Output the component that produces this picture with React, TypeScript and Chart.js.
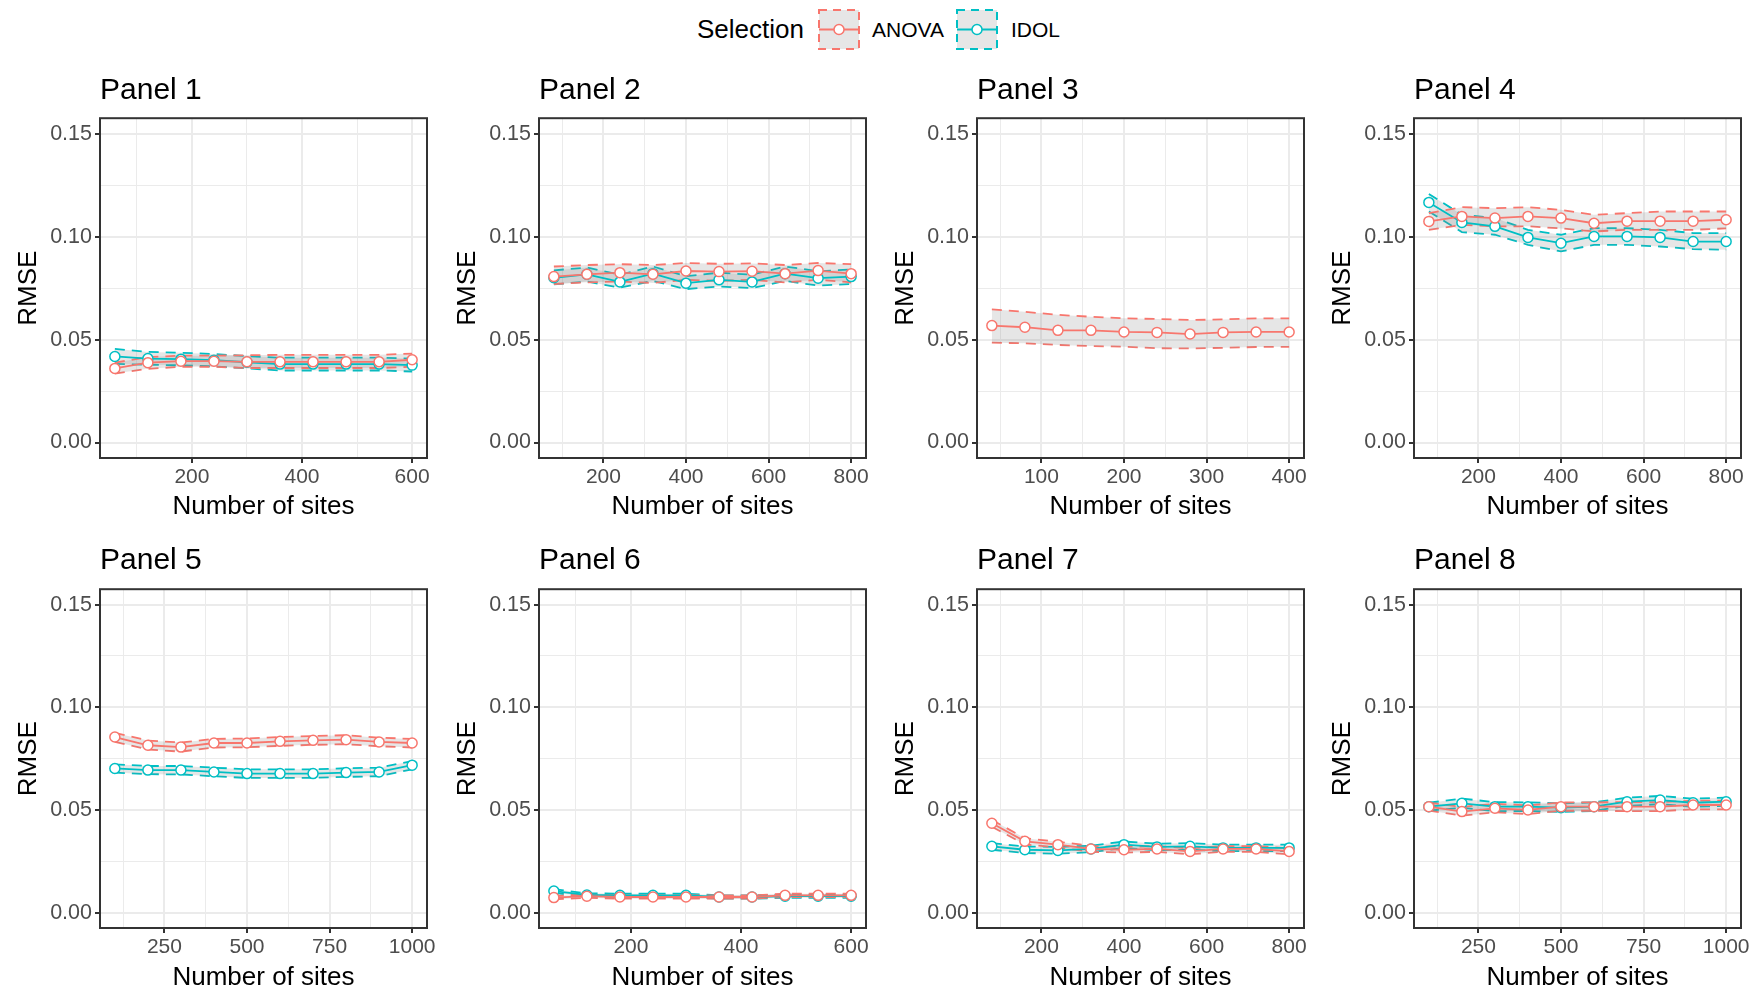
import React, { useEffect, useRef } from 'react';
import { Chart, registerables } from 'chart.js';

Chart.register(...registerables);

const FONT = "'Liberation Sans', Arial, Helvetica, sans-serif";
const ANOVA_COLOR = '#F8766D';
const IDOL_COLOR = '#00BFC4';
const RIBBON_FILL = 'rgba(128,128,128,0.2)';

// ---------- tick definitions ----------
const yMajorTicks = [0, 0.05, 0.1, 0.15];
const yMinorTicks = [0.025, 0.075, 0.125];
const yTickLabels = ['0.00', '0.05', '0.10', '0.15'];

const xMajor600 = [200, 400, 600];
const xMinor600 = [100, 300, 500];
const xLabels600 = ['200', '400', '600'];

const xMajor800 = [200, 400, 600, 800];
const xMinor800 = [100, 300, 500, 700];
const xLabels800 = ['200', '400', '600', '800'];

const xMajor400 = [100, 200, 300, 400];
const xMinor400 = [50, 150, 250, 350];
const xLabels400 = ['100', '200', '300', '400'];

const xMajor1000 = [250, 500, 750, 1000];
const xMinor1000 = [125, 375, 625, 875];
const xLabels1000 = ['250', '500', '750', '1000'];

// ---------- data ----------
const sites600 = [60, 120, 180, 240, 300, 360, 420, 480, 540, 600];
const sites800 = [80, 160, 240, 320, 400, 480, 560, 640, 720, 800];
const sites400 = [40, 80, 120, 160, 200, 240, 280, 320, 360, 400];
const sites1000 = [100, 200, 300, 400, 500, 600, 700, 800, 900, 1000];

// Panel 1
const p1AnovaMean = [0.0360, 0.0388, 0.0395, 0.0395, 0.0392, 0.0392, 0.0392, 0.0392, 0.0392, 0.0402];
const p1AnovaLo = [0.0335, 0.0358, 0.0368, 0.0368, 0.0362, 0.0362, 0.0362, 0.0362, 0.0362, 0.0368];
const p1AnovaHi = [0.0388, 0.0415, 0.0422, 0.0422, 0.0424, 0.0426, 0.0426, 0.0426, 0.0426, 0.0432];
const p1IdolMean = [0.0418, 0.0408, 0.0405, 0.0400, 0.0390, 0.0381, 0.0381, 0.0381, 0.0381, 0.0376];
const p1IdolLo = [0.0382, 0.0378, 0.0375, 0.0370, 0.0360, 0.0350, 0.0350, 0.0350, 0.0350, 0.0345];
const p1IdolHi = [0.0455, 0.0440, 0.0436, 0.0430, 0.0420, 0.0412, 0.0412, 0.0412, 0.0412, 0.0408];

// Panel 2
const p2AnovaMean = [0.0806, 0.0817, 0.0825, 0.0817, 0.0833, 0.0830, 0.0832, 0.0820, 0.0835, 0.0820];
const p2AnovaLo = [0.0770, 0.0778, 0.0782, 0.0775, 0.0790, 0.0785, 0.0790, 0.0778, 0.0790, 0.0778];
const p2AnovaHi = [0.0855, 0.0862, 0.0866, 0.0862, 0.0872, 0.0868, 0.0870, 0.0862, 0.0872, 0.0866];
const p2IdolMean = [0.0800, 0.0817, 0.0780, 0.0820, 0.0774, 0.0790, 0.0780, 0.0820, 0.0798, 0.0806];
const p2IdolLo = [0.0768, 0.0782, 0.0752, 0.0785, 0.0745, 0.0758, 0.0750, 0.0785, 0.0762, 0.0770];
const p2IdolHi = [0.0836, 0.0850, 0.0815, 0.0855, 0.0808, 0.0825, 0.0815, 0.0855, 0.0832, 0.0840];

// Panel 3 (ANOVA only)
const p3AnovaMean = [0.0568, 0.0560, 0.0545, 0.0545, 0.0537, 0.0535, 0.0527, 0.0535, 0.0537, 0.0537];
const p3AnovaLo = [0.0485, 0.0482, 0.0474, 0.0469, 0.0465, 0.0458, 0.0457, 0.0460, 0.0464, 0.0465];
const p3AnovaHi = [0.0647, 0.0635, 0.0620, 0.0611, 0.0603, 0.0600, 0.0595, 0.0598, 0.0603, 0.0603];

// Panel 4
const p4AnovaMean = [0.1074, 0.1098, 0.1090, 0.1098, 0.1090, 0.1065, 0.1075, 0.1075, 0.1075, 0.1082];
const p4AnovaLo = [0.1033, 0.1057, 0.1050, 0.1050, 0.1040, 0.1025, 0.1033, 0.1033, 0.1033, 0.1040];
const p4AnovaHi = [0.1114, 0.1143, 0.1138, 0.1143, 0.1130, 0.1106, 0.1114, 0.1122, 0.1122, 0.1122];
const p4IdolMean = [0.1166, 0.1069, 0.1050, 0.0996, 0.0968, 0.1001, 0.1001, 0.0996, 0.0976, 0.0976];
const p4IdolLo = [0.1122, 0.1022, 0.1009, 0.0960, 0.0928, 0.0960, 0.0960, 0.0952, 0.0939, 0.0936];
const p4IdolHi = [0.1207, 0.1106, 0.1090, 0.1033, 0.1009, 0.1041, 0.1041, 0.1033, 0.1017, 0.1017];

// Panel 5
const p5AnovaMean = [0.0855, 0.0815, 0.0806, 0.0826, 0.0826, 0.0834, 0.0839, 0.0842, 0.0831, 0.0826];
const p5AnovaLo = [0.0832, 0.0794, 0.0784, 0.0804, 0.0805, 0.0812, 0.0817, 0.0820, 0.0810, 0.0804];
const p5AnovaHi = [0.0875, 0.0838, 0.0828, 0.0846, 0.0848, 0.0855, 0.0860, 0.0864, 0.0852, 0.0846];
const p5IdolMean = [0.0702, 0.0694, 0.0694, 0.0685, 0.0677, 0.0677, 0.0677, 0.0682, 0.0685, 0.0718];
const p5IdolLo = [0.0682, 0.0674, 0.0673, 0.0664, 0.0656, 0.0656, 0.0656, 0.0661, 0.0664, 0.0698];
const p5IdolHi = [0.0722, 0.0714, 0.0714, 0.0706, 0.0698, 0.0698, 0.0698, 0.0703, 0.0706, 0.0738];

// Panel 6
const p6AnovaMean = [0.0073, 0.0080, 0.0076, 0.0076, 0.0076, 0.0076, 0.0076, 0.0084, 0.0084, 0.0084];
const p6AnovaLo = [0.0065, 0.0072, 0.0068, 0.0068, 0.0068, 0.0068, 0.0068, 0.0076, 0.0076, 0.0076];
const p6AnovaHi = [0.0081, 0.0088, 0.0084, 0.0084, 0.0084, 0.0084, 0.0084, 0.0092, 0.0092, 0.0092];
const p6IdolMean = [0.0105, 0.0086, 0.0084, 0.0084, 0.0084, 0.0076, 0.0076, 0.0080, 0.0080, 0.0080];
const p6IdolLo = [0.0096, 0.0078, 0.0076, 0.0076, 0.0076, 0.0068, 0.0068, 0.0072, 0.0072, 0.0072];
const p6IdolHi = [0.0114, 0.0094, 0.0092, 0.0092, 0.0092, 0.0084, 0.0084, 0.0088, 0.0088, 0.0088];

// Panel 7
const p7AnovaMean = [0.0435, 0.0347, 0.0331, 0.0310, 0.0306, 0.0310, 0.0298, 0.0310, 0.0310, 0.0298];
const p7AnovaLo = [0.0418, 0.0332, 0.0317, 0.0296, 0.0292, 0.0296, 0.0284, 0.0296, 0.0296, 0.0284];
const p7AnovaHi = [0.0452, 0.0362, 0.0345, 0.0325, 0.0320, 0.0324, 0.0313, 0.0324, 0.0324, 0.0313];
const p7IdolMean = [0.0323, 0.0306, 0.0303, 0.0310, 0.0331, 0.0320, 0.0323, 0.0315, 0.0315, 0.0315];
const p7IdolLo = [0.0306, 0.0290, 0.0287, 0.0294, 0.0315, 0.0304, 0.0307, 0.0299, 0.0299, 0.0299];
const p7IdolHi = [0.0338, 0.0322, 0.0320, 0.0326, 0.0346, 0.0336, 0.0338, 0.0331, 0.0331, 0.0331];

// Panel 8
const p8AnovaMean = [0.0516, 0.0492, 0.0508, 0.0500, 0.0516, 0.0516, 0.0516, 0.0516, 0.0524, 0.0524];
const p8AnovaLo = [0.0497, 0.0472, 0.0488, 0.0480, 0.0496, 0.0496, 0.0494, 0.0494, 0.0503, 0.0503];
const p8AnovaHi = [0.0535, 0.0515, 0.0530, 0.0522, 0.0536, 0.0537, 0.0538, 0.0538, 0.0545, 0.0545];
const p8IdolMean = [0.0516, 0.0532, 0.0516, 0.0516, 0.0511, 0.0516, 0.0540, 0.0548, 0.0535, 0.0540];
const p8IdolLo = [0.0497, 0.0510, 0.0494, 0.0495, 0.0490, 0.0495, 0.0520, 0.0528, 0.0515, 0.0520];
const p8IdolHi = [0.0535, 0.0555, 0.0538, 0.0537, 0.0532, 0.0537, 0.0560, 0.0568, 0.0555, 0.0560];

type Series = { name: string; color: string; mean: number[]; lo: number[]; hi: number[] };
type PanelCfg = {
  title: string;
  sites: number[];
  xMajor: number[];
  xMinor: number[];
  xLabels: string[];
  series: Series[];
};

const panels: PanelCfg[] = [
  { title: 'Panel 1', sites: sites600, xMajor: xMajor600, xMinor: xMinor600, xLabels: xLabels600,
    series: [
      { name: 'ANOVA', color: ANOVA_COLOR, mean: p1AnovaMean, lo: p1AnovaLo, hi: p1AnovaHi },
      { name: 'IDOL', color: IDOL_COLOR, mean: p1IdolMean, lo: p1IdolLo, hi: p1IdolHi },
    ] },
  { title: 'Panel 2', sites: sites800, xMajor: xMajor800, xMinor: xMinor800, xLabels: xLabels800,
    series: [
      { name: 'ANOVA', color: ANOVA_COLOR, mean: p2AnovaMean, lo: p2AnovaLo, hi: p2AnovaHi },
      { name: 'IDOL', color: IDOL_COLOR, mean: p2IdolMean, lo: p2IdolLo, hi: p2IdolHi },
    ] },
  { title: 'Panel 3', sites: sites400, xMajor: xMajor400, xMinor: xMinor400, xLabels: xLabels400,
    series: [
      { name: 'ANOVA', color: ANOVA_COLOR, mean: p3AnovaMean, lo: p3AnovaLo, hi: p3AnovaHi },
    ] },
  { title: 'Panel 4', sites: sites800, xMajor: xMajor800, xMinor: xMinor800, xLabels: xLabels800,
    series: [
      { name: 'ANOVA', color: ANOVA_COLOR, mean: p4AnovaMean, lo: p4AnovaLo, hi: p4AnovaHi },
      { name: 'IDOL', color: IDOL_COLOR, mean: p4IdolMean, lo: p4IdolLo, hi: p4IdolHi },
    ] },
  { title: 'Panel 5', sites: sites1000, xMajor: xMajor1000, xMinor: xMinor1000, xLabels: xLabels1000,
    series: [
      { name: 'ANOVA', color: ANOVA_COLOR, mean: p5AnovaMean, lo: p5AnovaLo, hi: p5AnovaHi },
      { name: 'IDOL', color: IDOL_COLOR, mean: p5IdolMean, lo: p5IdolLo, hi: p5IdolHi },
    ] },
  { title: 'Panel 6', sites: sites600, xMajor: xMajor600, xMinor: xMinor600, xLabels: xLabels600,
    series: [
      { name: 'ANOVA', color: ANOVA_COLOR, mean: p6AnovaMean, lo: p6AnovaLo, hi: p6AnovaHi },
      { name: 'IDOL', color: IDOL_COLOR, mean: p6IdolMean, lo: p6IdolLo, hi: p6IdolHi },
    ] },
  { title: 'Panel 7', sites: sites800, xMajor: xMajor800, xMinor: xMinor800, xLabels: xLabels800,
    series: [
      { name: 'ANOVA', color: ANOVA_COLOR, mean: p7AnovaMean, lo: p7AnovaLo, hi: p7AnovaHi },
      { name: 'IDOL', color: IDOL_COLOR, mean: p7IdolMean, lo: p7IdolLo, hi: p7IdolHi },
    ] },
  { title: 'Panel 8', sites: sites1000, xMajor: xMajor1000, xMinor: xMinor1000, xLabels: xLabels1000,
    series: [
      { name: 'ANOVA', color: ANOVA_COLOR, mean: p8AnovaMean, lo: p8AnovaLo, hi: p8AnovaHi },
      { name: 'IDOL', color: IDOL_COLOR, mean: p8IdolMean, lo: p8IdolLo, hi: p8IdolHi },
    ] },
];

// ---------- layout ----------
const CHART_LEFTS = [100, 539, 977, 1414];
const CHART_W = 327;
const Y_AXIS_W = 100;
const RIGHT_PAD = 14;
const ROWS = [
  { top: 40, height: 485, titlePad: { top: 33, bottom: 9.2 }, xAxisH: 67, xTitlePadBottom: 2.4 },
  { top: 530, height: 463, titlePad: { top: 12.4, bottom: 10.8 }, xAxisH: 65, xTitlePadBottom: -0.6 },
];

const near = (arr: number[], v: number) => arr.findIndex((m) => Math.abs(m - v) < 1e-9);

const panelBorder = {
  id: 'panelBorder',
  afterDatasetsDraw(chart: any) {
    const { ctx, chartArea: a } = chart;
    ctx.save();
    ctx.strokeStyle = '#333333';
    ctx.lineWidth = 2;
    ctx.strokeRect(a.left, a.top, a.right - a.left, a.bottom - a.top);
    ctx.restore();
  },
};

function buildDatasets(cfg: PanelCfg) {
  const xy = (ys: number[]) => cfg.sites.map((x, i) => ({ x, y: ys[i] }));
  const means = cfg.series.map((s) => ({
    label: s.name,
    data: xy(s.mean),
    borderColor: s.color,
    borderWidth: 1.8,
    pointRadius: 5,
    pointBorderWidth: 1.5,
    pointBorderColor: s.color,
    pointBackgroundColor: '#ffffff',
    fill: false,
    tension: 0,
  }));
  const ribbons: any[] = [];
  cfg.series.forEach((s) => {
    ribbons.push({
      label: s.name + ' upper',
      data: xy(s.hi),
      borderColor: s.color,
      borderWidth: 1.8,
      borderDash: [10, 7],
      pointRadius: 0,
      fill: '+1',
      backgroundColor: RIBBON_FILL,
      tension: 0,
    });
    ribbons.push({
      label: s.name + ' lower',
      data: xy(s.lo),
      borderColor: s.color,
      borderWidth: 1.8,
      borderDash: [10, 7],
      pointRadius: 0,
      fill: false,
      tension: 0,
    });
  });
  return [...means, ...ribbons];
}

function Panel({ cfg, index }: { cfg: PanelCfg; index: number }) {
  const ref = useRef<HTMLCanvasElement>(null);
  const col = index % 4;
  const row = ROWS[Math.floor(index / 4)];
  const left = CHART_LEFTS[col] - Y_AXIS_W;
  const width = Y_AXIS_W + CHART_W + RIGHT_PAD;

  useEffect(() => {
    const xs = cfg.sites;
    const span = Math.max(...xs) - Math.min(...xs);
    const xMin = Math.min(...xs) - 0.05 * span;
    const xMax = Math.max(...xs) + 0.05 * span;
    const xTicks = [...cfg.xMajor, ...cfg.xMinor].sort((a, b) => a - b);
    const yTicks = [...yMajorTicks, ...yMinorTicks].sort((a, b) => a - b);

    const chart = new Chart(ref.current as HTMLCanvasElement, {
      type: 'line',
      data: { datasets: buildDatasets(cfg) as any },
      plugins: [panelBorder],
      options: {
        animation: false,
        responsive: false,
        maintainAspectRatio: false,
        layout: { padding: { left: 0, right: RIGHT_PAD, top: 0, bottom: 0 } },
        plugins: {
          legend: { display: false },
          tooltip: { enabled: false },
          title: {
            display: true,
            text: cfg.title,
            align: 'start',
            fullSize: false,
            color: '#000000',
            font: { size: 30, family: FONT, weight: 'normal', lineHeight: 1.2 },
            padding: row.titlePad,
          },
        },
        scales: {
          x: {
            type: 'linear',
            position: 'bottom',
            min: xMin,
            max: xMax,
            afterBuildTicks: (scale: any) => {
              scale.ticks = xTicks.map((v) => ({ value: v }));
            },
            afterFit: (scale: any) => {
              scale.height = row.xAxisH;
            },
            border: { display: false },
            grid: {
              color: '#ebebeb',
              lineWidth: (c: any) => (c.tick && near(cfg.xMajor, c.tick.value) >= 0 ? 2 : 1),
              tickColor: (c: any) => (c.tick && near(cfg.xMajor, c.tick.value) >= 0 ? '#333333' : 'rgba(0,0,0,0)'),
              tickLength: 5,
              tickWidth: 2,
            },
            ticks: {
              autoSkip: false,
              maxRotation: 0,
              minRotation: 0,
              padding: 2,
              color: '#4d4d4d',
              font: { size: 21, family: FONT, lineHeight: 1.2 },
              callback: (v: any) => {
                const i = near(cfg.xMajor, Number(v));
                return i >= 0 ? cfg.xLabels[i] : '';
              },
            },
            title: {
              display: true,
              text: 'Number of sites',
              color: '#000000',
              font: { size: 26, family: FONT, lineHeight: 1.2 },
              padding: { top: 0, bottom: row.xTitlePadBottom },
            },
          },
          y: {
            type: 'linear',
            position: 'left',
            min: -0.0075,
            max: 0.1575,
            afterBuildTicks: (scale: any) => {
              scale.ticks = yTicks.map((v) => ({ value: v }));
            },
            afterFit: (scale: any) => {
              scale.width = Y_AXIS_W;
            },
            border: { display: false },
            grid: {
              color: '#ebebeb',
              lineWidth: (c: any) => (c.tick && near(yMajorTicks, c.tick.value) >= 0 ? 2 : 1),
              tickColor: (c: any) => (c.tick && near(yMajorTicks, c.tick.value) >= 0 ? '#333333' : 'rgba(0,0,0,0)'),
              tickLength: 5,
              tickWidth: 2,
            },
            ticks: {
              autoSkip: false,
              padding: 3,
              color: '#4d4d4d',
              font: { size: 21.5, family: FONT, lineHeight: 1.2 },
              callback: (v: any) => {
                const i = near(yMajorTicks, Number(v));
                return i >= 0 ? yTickLabels[i] : '';
              },
            },
            title: {
              display: true,
              text: 'RMSE',
              color: '#000000',
              font: { size: 26, family: FONT, lineHeight: 1.2 },
              padding: { top: 13.5, bottom: 0 },
            },
          },
        },
      } as any,
    });
    return () => chart.destroy();
  }, []);

  return (
    <canvas
      ref={ref}
      width={width}
      height={row.height}
      style={{ position: 'absolute', left, top: row.top, width, height: row.height }}
    />
  );
}

function LegendKey({ color }: { color: string }) {
  return (
    <svg width={42} height={41} style={{ display: 'block' }}>
      <rect x={1} y={1} width={40} height={39} fill="#e6e6e6" stroke={color} strokeWidth={2} strokeDasharray="8 6" />
      <line x1={1} y1={20.5} x2={41} y2={20.5} stroke={color} strokeWidth={1.8} />
      <circle cx={21} cy={20.5} r={5} fill="#ffffff" stroke={color} strokeWidth={1.5} />
    </svg>
  );
}

const legendItems = [
  { label: 'ANOVA', color: ANOVA_COLOR, keyLeft: 818, textLeft: 872 },
  { label: 'IDOL', color: IDOL_COLOR, keyLeft: 956, textLeft: 1011 },
];

export default function App() {
  const textStyle = (left: number, size: number): React.CSSProperties => ({
    position: 'absolute',
    left,
    top: 29,
    transform: 'translateY(-50%)',
    fontFamily: FONT,
    fontSize: size,
    lineHeight: 1,
    color: '#000000',
    whiteSpace: 'nowrap',
  });
  return (
    <div style={{ position: 'absolute', left: 0, top: 0, width: 1758, height: 993, background: '#ffffff', overflow: 'hidden' }}>
      <div style={textStyle(697, 26)}>Selection</div>
      {legendItems.map((it) => (
        <React.Fragment key={it.label}>
          <div style={{ position: 'absolute', left: it.keyLeft, top: 9 }}>
            <LegendKey color={it.color} />
          </div>
          <div style={textStyle(it.textLeft, 21)}>{it.label}</div>
        </React.Fragment>
      ))}
      {panels.map((p, i) => (
        <Panel key={p.title} cfg={p} index={i} />
      ))}
    </div>
  );
}
